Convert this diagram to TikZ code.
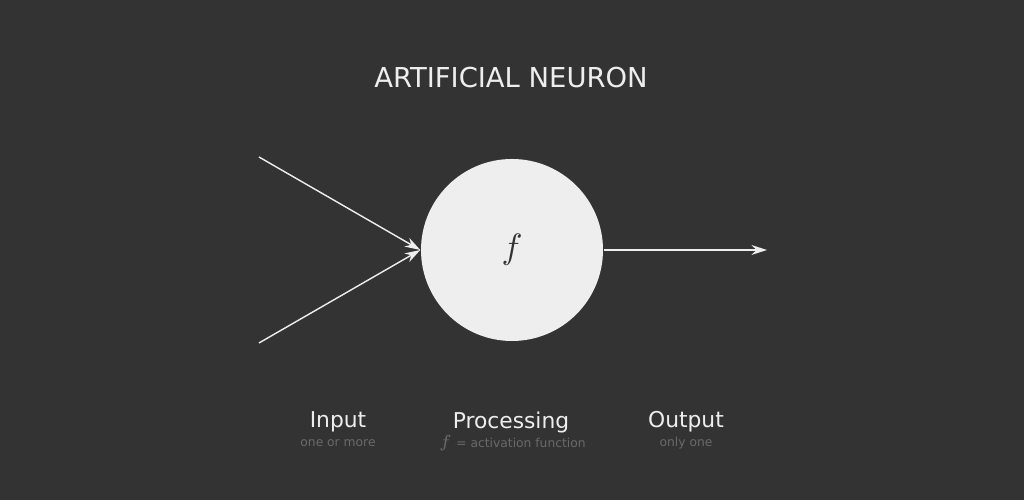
\documentclass[tikz,border=0pt]{standalone}
\usepackage{fontspec}
\setmainfont{DejaVu Sans}
\usetikzlibrary{arrows.meta}
\definecolor{bgdark}{HTML}{333333}
\definecolor{neuronfill}{HTML}{EEEEEE}
\definecolor{subgray}{HTML}{6A6A6A}
\tikzset{
	label main/.style={text=neuronfill, font=\fontsize{6.2}{7.4}\selectfont},
	label sub/.style={text=subgray, font=\fontsize{3.5}{4.2}\selectfont},
	wire/.style={draw=neuronfill, line width=0.4pt, -{Stealth[length=4.4pt, width=2.8pt]}}
}
\begin{document}
\begin{tikzpicture}[>=stealth]
	\fill[bgdark] (0,0) rectangle (10.24,5);
	\useasboundingbox (0,0) rectangle (10.24,5);
	% tieu de
	\node[text=neuronfill, font=\fontsize{7.8}{9.4}\selectfont] (title) at (5.11,4.22) {ARTIFICIAL NEURON};
	\node[circle, fill=neuronfill, minimum size=1.82cm, inner sep=0pt] (neuron) at (5.12,2.5) {\fontsize{10}{12}\selectfont\color{bgdark}$f$};
	\coordinate (in1) at (2.59,3.43);
	\coordinate (in2) at (2.59,1.57);
	\coordinate (out) at (7.67,2.5);
	\draw[wire] (in1) -- (neuron.west);
	\draw[wire] (in2) -- (neuron.west);
	\draw[wire] (neuron.east) -- (out);
	% chu thich
	\node[label main] (input) at (3.38,0.78) {Input};
	\node[label sub] (inputsub) at (3.38,0.57) {one or more};
	\node[label main] (proc) at (5.11,0.78) {Processing};
	\node[label sub] (procsub) at (5.12,0.57) {$f$ = activation function};
	\node[label main] (output) at (6.86,0.78) {Output};
	\node[label sub] (outputsub) at (6.86,0.57) {only one};
\end{tikzpicture}
\end{document}
